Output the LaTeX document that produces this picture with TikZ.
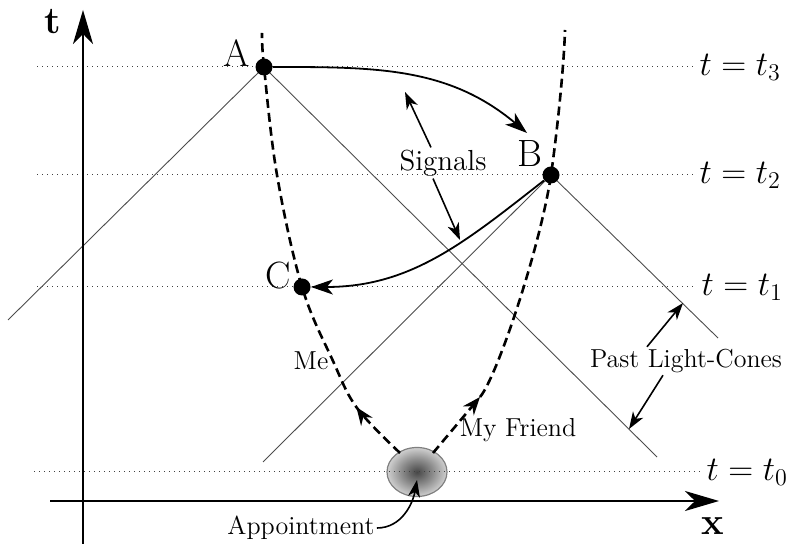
\documentclass[tikz,border=0pt]{standalone}
\usetikzlibrary{positioning,arrows.meta,shapes.geometric,decorations.markings,backgrounds}

\pgfdeclareradialshading{apptshade}{\pgfpoint{0bp}{0bp}}{%
  color(0bp)=(black!72); color(13bp)=(black!45); color(27bp)=(black!14); color(50bp)=(black!10)}

\begin{document}
\begin{tikzpicture}[
    x=0.5pt, y=0.5pt,
    lab/.style={font=\fontsize{13}{15}\selectfont, inner sep=1pt},
    evt/.style={circle, fill=black, inner sep=0pt, minimum size=8.5pt},
    evtlab/.style={font=\fontsize{19}{22}\selectfont, inner sep=1pt},
    tlab/.style={font=\fontsize{18.5}{22}\selectfont, text=black, anchor=west, inner sep=3pt},
    axlab/.style={font=\fontsize{19}{22}\selectfont\bfseries},
    axis/.style={line width=1pt, -{Stealth[length=17pt, width=10pt, inset=5pt]}},
    level/.style={dotted, line width=0.5pt, black!75},
    cone/.style={line width=0.45pt, black!70},
    world/.style={line width=1.3pt, dash pattern=on 4.5pt off 2.5pt},
    wtip/.style={-{Stealth[length=9pt, width=7pt, inset=3pt]}},
    midarrow/.style={postaction={decorate}, decoration={markings,
        mark=at position #1 with {\arrow{Stealth[length=9pt, width=7pt, inset=3pt]}}}},
    signal/.style={line width=0.9pt, -{Stealth[length=11pt, width=7.5pt, inset=3pt]}},
    ptr/.style={line width=0.8pt, -{Stealth[length=8.5pt, width=6pt, inset=2.5pt]}},
    appt/.style={ellipse, draw=black!50, line width=0.6pt, minimum width=30pt,
        minimum height=24.5pt, shading=apptshade},
  ]

  \useasboundingbox (0,0) rectangle (795,544);

  % ============ Axes ============
  \draw[axis] (83,0) -- (83,534);
  \draw[axis] (50,43) -- (719,43);
  \node[axlab] (tAx) at (53,522) {t};
  \node[axlab] (xAx) at (713,18) {x};

  % ============ Events ============
  \node[evt, label={[evtlab, xshift=-2.5pt, yshift=-4pt]above left:A}] (A) at (264,477) {};
  \node[evt, label={[evtlab]above left:B}] (B) at (551,369) {};
  \node[evt, label={[evtlab, yshift=5.5pt]left:C}] (C) at (302,257) {};

  \coordinate (coneAL) at (8,224);
  \coordinate (coneAR) at (657,87);
  \coordinate (coneBL) at (263,82);
  \coordinate (coneBR) at (718,206);
  \coordinate (meTop) at (262,511);
  \coordinate (frBot) at (433,91);
  \coordinate (frMid) at (480,147);
  \coordinate (frTop) at (565,514);

  \begin{scope}[on background layer]
    \node[appt] (appt) at (417,72) {};

    % time slices
    \draw[level] (37,477) -- (693,477) node[tlab] {$t=t_3$};
    \draw[level] (37,369) -- (693,369) node[tlab] {$t=t_2$};
    \draw[level] (37,257) -- (695,257) node[tlab] {$t=t_1$};
    \draw[level] (34,72) -- (700,72) node[tlab] {$t=t_0$};

    % past light-cones of A and B
    \draw[cone] (A.center) -- (coneAL);
    \draw[cone] (A.center) -- (coneAR);
    \draw[cone] (B.center) -- (coneBL);
    \draw[cone] (B.center) -- (coneBR);

    % world lines, starting at the appointment
    \draw[world, midarrow=0.14] plot[smooth, tension=0.6] coordinates
          {(400,91) (357,136) (333,183) (C.center) (277,369) (A.center) (meTop)};
    \draw[world, wtip] (frBot) -- (frMid);
    \draw[world] (frMid) .. controls (497,167) and (540,296) .. (B.center)
          .. controls (558,419) and (564,480) .. (frTop);
  \end{scope}

  % ============ Signals ============
  \coordinate (tipAB) at (527,411);
  \draw[signal] (A) to[out=0, in=140] (tipAB);
  \draw[signal] (B) to[out=218, in=0] (C);

  \node[lab, font=\fontsize{14.5}{17}\selectfont] (sigLbl) at (443,381) {Signals};
  \coordinate (sigUp) at (405,452);
  \coordinate (sigDn) at (460,304);
  \draw[ptr] ([xshift=-6pt]sigLbl.north) -- (sigUp);
  \draw[ptr] ([xshift=-5pt]sigLbl.south) -- (sigDn);

  % ============ Labels ============
  \node[lab] (meLbl) at (311,183) {Me};
  \node[lab] (frLbl) at (518,114) {My Friend};

  \node[lab] (pastLbl) at (686,183) {Past Light-Cones};
  \coordinate (pastUp) at (683,241);
  \coordinate (pastDn) at (629,115);
  \draw[ptr] ([xshift=-19.5pt]pastLbl.north) -- (pastUp);
  \draw[ptr] ([xshift=-11.5pt]pastLbl.south) -- (pastDn);

  \node[lab] (apptLbl) at (301,16) {Appointment};
  \coordinate (apptTip) at (417,64);
  \draw[ptr] (apptLbl.east) to[out=0, in=-100] (apptTip);

\end{tikzpicture}
\end{document}
